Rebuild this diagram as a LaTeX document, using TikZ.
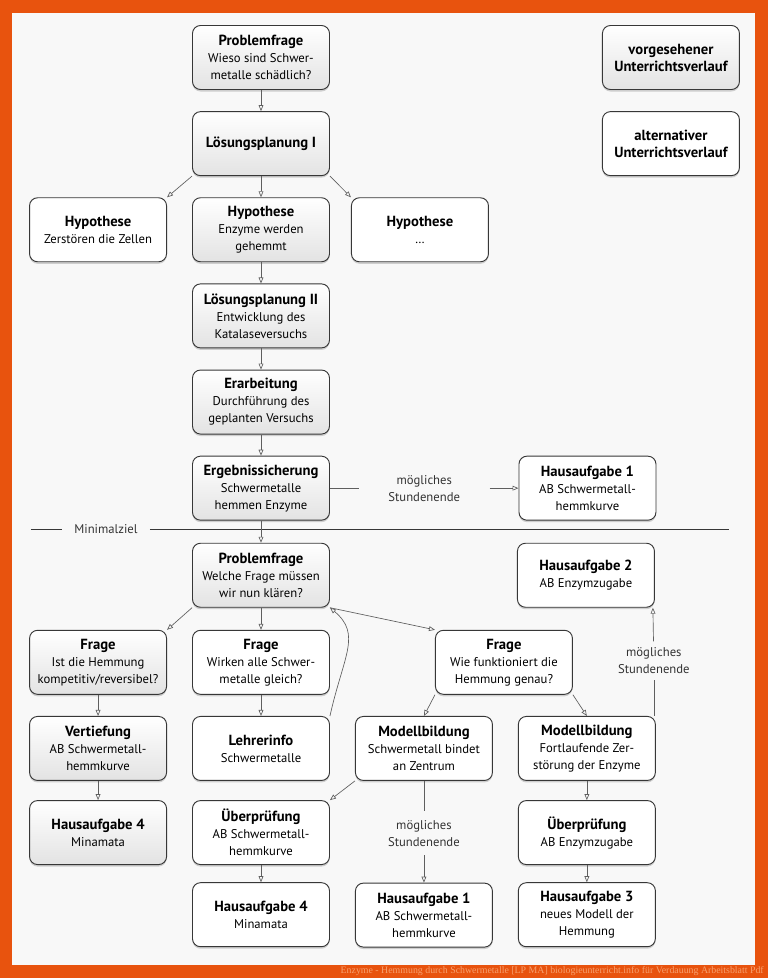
\documentclass[tikz,border=0pt]{standalone}
\usepackage{fontspec}
\setmainfont{PT Sans}
\newfontfamily\captionfont{Liberation Serif}
\usetikzlibrary{positioning, shadows, arrows.meta}
\definecolor{frame}{RGB}{232,83,14}
\definecolor{paper}{RGB}{248,248,248}
\definecolor{edge}{RGB}{55,55,55}
\definecolor{wire}{RGB}{95,95,95}
\definecolor{capt}{RGB}{247,160,110}
\newcommand{\head}[1]{{\fontsize{11}{12.75}\selectfont\bfseries #1}}

\begin{document}
\begin{tikzpicture}[node distance=15.9pt and 18.75pt, font=\fontsize{9.5}{12.75}\selectfont]
    \tikzstyle{card} = [draw=edge, line width=0.7pt, rectangle, rounded corners=6pt, minimum width=102.75pt, minimum height=48pt, align=center, inner sep=2pt, drop shadow={shadow xshift=0pt, shadow yshift=-1.5pt, opacity=0.35}]
    \tikzstyle{planned} = [card, top color=white, bottom color=black!11]
    \tikzstyle{optional} = [card, fill=white]
    \tikzstyle{note} = [align=center, text=black!80, inner sep=0pt]
    \tikzstyle{link} = [draw=wire, line width=0.5pt]
    \tikzstyle{arrow} = [link, -{Triangle[open, length=4.5pt, width=3.6pt]}]

    % frame and paper
    \fill[frame] (-195.75pt,43.125pt) rectangle (380.25pt,-690.375pt);
    \fill[paper] (-186.75pt,33.375pt) rectangle (370.5pt,-680.625pt);

    % first lesson part
    \node[planned] (prob1) {\head{Problemfrage}\\Wieso sind Schwer-\\metalle schädlich?};
    \node[planned, below=of prob1] (loes1) {\head{Lösungsplanung I}};
    \node[planned, below=of loes1] (hypB) {\head{Hypothese}\\Enzyme werden\\gehemmt};
    \node[optional, left=of hypB] (hypA) {\head{Hypothese}\\Zerstören die Zellen};
    \node[optional, right=15.75pt of hypB] (hypC) {\head{Hypothese}\\…};
    \node[planned, below=of hypB] (loes2) {\head{Lösungsplanung II}\\Entwicklung des\\Katalaseversuchs};
    \node[planned, below=of loes2] (erarb) {\head{Erarbeitung}\\Durchführung des\\geplanten Versuchs};
    \node[planned, below=of erarb] (ergeb) {\head{Ergebnissicherung}\\Schwermetalle\\hemmen Enzyme};
    \node[note, right=21.75pt of ergeb, minimum width=97.5pt, minimum height=30pt] (endA) {mögliches\\Stundenende};
    \node[optional, right=21.75pt of endA] (ha1a) {\head{Hausaufgabe 1}\\AB Schwermetall-\\hemmkurve};

    % legend
    \node[planned, right=204pt of prob1] (legplan) {\head{vorgesehener}\\\head{Unterrichtsverlauf}};
    \node[optional, below=of legplan] (legalt) {\head{alternativer}\\\head{Unterrichtsverlauf}};

    % Minimalziel
    \node[note, inner xsep=9pt] (minimal) at (-116.25pt,-353.6pt) {Minimalziel};
    \coordinate (mzL) at (-172.5pt,-353.6pt);
    \coordinate (mzR) at (351pt,-353.6pt);
    \draw[edge, line width=0.7pt] (mzL) -- (minimal.west);
    \draw[edge, line width=0.7pt] (minimal.east) -- (mzR);

    % second lesson part
    \node[planned, below=16.6pt of ergeb] (prob2) {\head{Problemfrage}\\Welche Frage müssen\\wir nun klären?};
    \node[optional, right=140.25pt of prob2] (ha2) {\head{Hausaufgabe 2}\\AB Enzymzugabe};
    \node[optional, below=16.6pt of prob2] (frageB) {\head{Frage}\\Wirken alle Schwer-\\metalle gleich?};
    \node[planned, left=of frageB] (frageA) {\head{Frage}\\Ist die Hemmung\\kompetitiv/reversibel?};
    \node[optional, right=78.75pt of frageB] (frageC) {\head{Frage}\\Wie funktioniert die\\Hemmung genau?};
    \node[planned, below=of frageA] (vert) {\head{Vertiefung}\\AB Schwermetall-\\hemmkurve};
    \node[optional, below=of frageB] (lehrer) {\head{Lehrerinfo}\\Schwermetalle};
    \node[optional, right=of lehrer] (mod1) {\head{Modellbildung}\\Schwermetall bindet\\an Zentrum};
    \node[optional, right=of mod1] (mod2) {\head{Modellbildung}\\Fortlaufende Zer-\\störung der Enzyme};
    \node[note, above=27pt of mod2.north east, xshift=-1.5pt, minimum height=28.5pt] (endC) {mögliches\\Stundenende};
    \node[planned, below=14.4pt of vert] (ha4a) {\head{Hausaufgabe 4}\\Minamata};
    \node[optional, below=14.4pt of lehrer] (ueb1) {\head{Überprüfung}\\AB Schwermetall-\\hemmkurve};
    \node[note, below=22.5pt of mod1, minimum height=33pt] (endB) {mögliches\\Stundenende};
    \node[optional, below=14.4pt of mod2] (ueb2) {\head{Überprüfung}\\AB Enzymzugabe};
    \node[optional, below=12.9pt of ueb1] (ha4b) {\head{Hausaufgabe 4}\\Minamata};
    \node[optional, below=20.4pt of endB] (ha1b) {\head{Hausaufgabe 1}\\AB Schwermetall-\\hemmkurve};
    \node[optional, below=12.9pt of ueb2] (ha3) {\head{Hausaufgabe 3}\\neues Modell der\\Hemmung};

    % connectors
    \draw[arrow] (prob1) -- (loes1);
    \draw[arrow] (loes1.south west) -- (hypA.north east);
    \draw[arrow] (loes1) -- (hypB);
    \draw[arrow] (loes1.south east) -- (hypC.north west);
    \draw[arrow] (hypB) -- (loes2);
    \draw[arrow] (loes2) -- (erarb);
    \draw[arrow] (erarb) -- (ergeb);
    \draw[link] (ergeb) -- (endA);
    \draw[arrow] (endA) -- (ha1a);
    \draw[arrow] (ergeb) -- (prob2);
    \draw[arrow] (prob2.south west) -- (frageA.north east);
    \draw[arrow] (prob2) -- (frageB);
    \draw[arrow] (prob2.south east) -- (frageC.north west);
    \draw[arrow] (lehrer.north east) .. controls +(10pt,45pt) and +(24pt,-20pt) .. (prob2.south east);
    \draw[arrow] (frageA) -- (vert);
    \draw[arrow] (vert) -- (ha4a);
    \draw[arrow] (frageB) -- (lehrer);
    \draw[arrow] (frageC.south west) -- (mod1.north);
    \draw[arrow] (frageC.south east) -- (mod2.north);
    \draw[link] ([xshift=-1.5pt]mod2.north east) -- (endC);
    \draw[arrow] (endC) -- ([xshift=-1.5pt]ha2.south east);
    \draw[arrow] (mod1.south west) -- (ueb1.north east);
    \draw[link] (mod1) -- (endB);
    \draw[arrow] (endB) -- (ha1b);
    \draw[arrow] (mod2) -- (ueb2);
    \draw[arrow] (ueb2) -- (ha3);
    \draw[arrow] (ueb1) -- (ha4b);

    % caption
    \node[anchor=east, text=capt, font=\captionfont\fontsize{7.4}{8}\selectfont, inner sep=0pt] (caption) at (377.25pt,-685.1pt) {Enzyme - Hemmung durch Schwermetalle [LP MA] biologieunterricht.info für Verdauung Arbeitsblatt Pdf};
\end{tikzpicture}
\end{document}
